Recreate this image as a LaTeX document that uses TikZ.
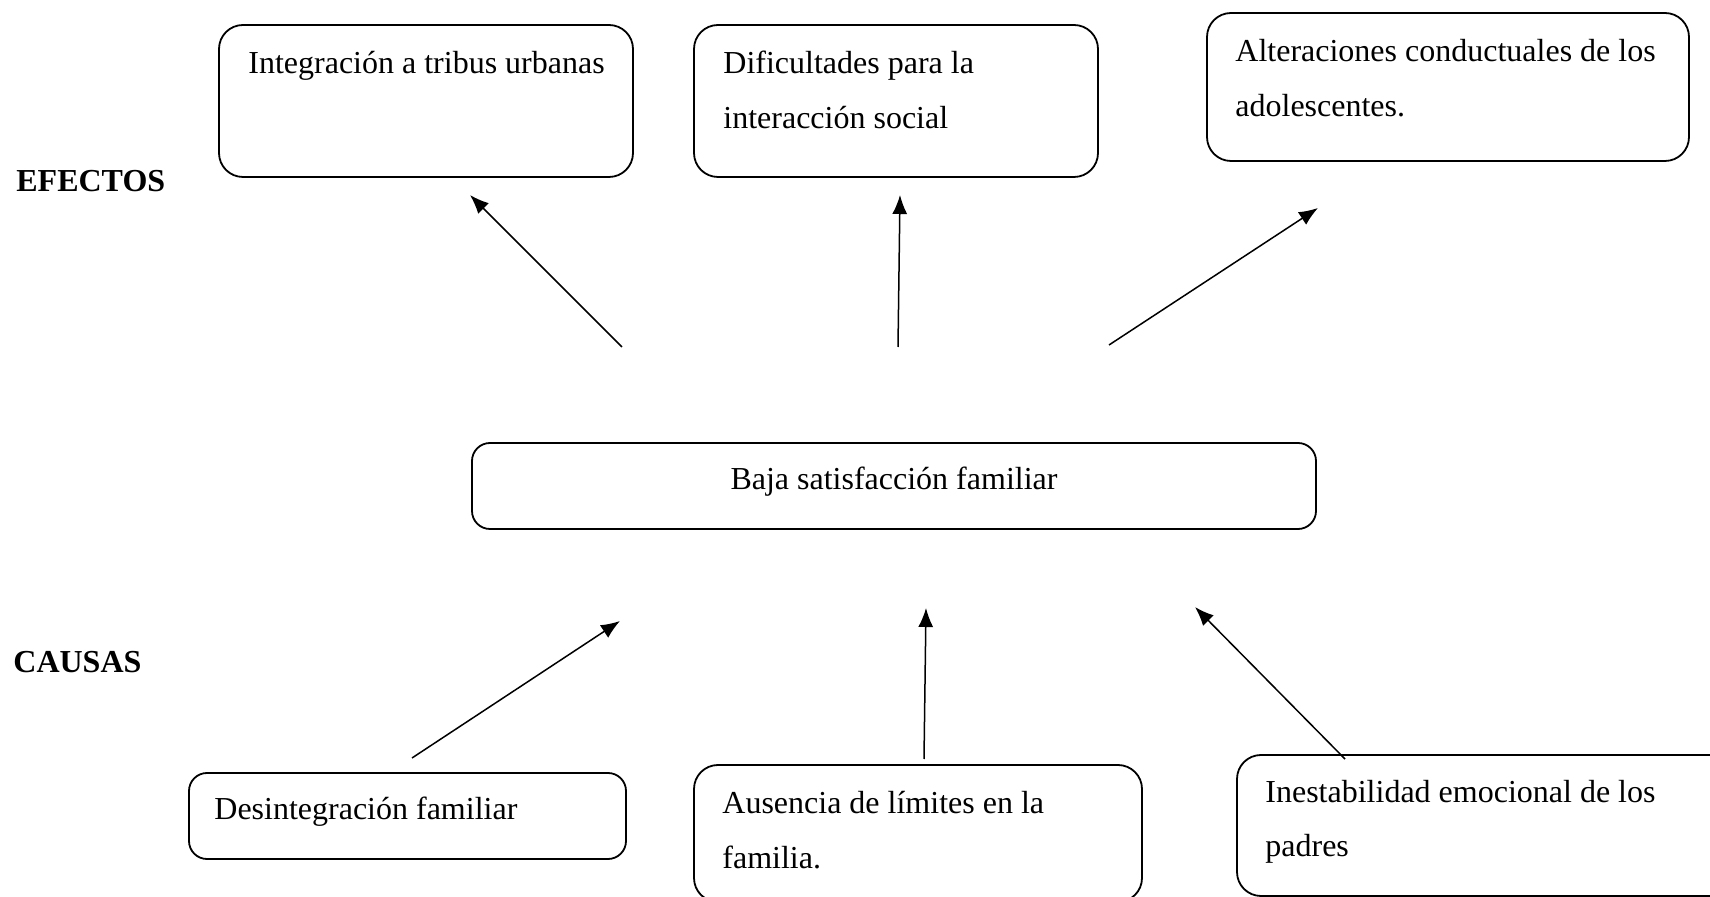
\documentclass[tikz,border=0pt]{standalone}
\usepackage{fontspec}
\setmainfont{Liberation Serif}
\usetikzlibrary{fit,arrows.meta}
\begin{document}
\begin{tikzpicture}[x=0.5pt,y=-0.5pt,
  box/.style={draw, line width=0.9pt, rounded corners=12pt, inner sep=0pt},
  boxs/.style={box, rounded corners=9pt},
  txt/.style={anchor=base west, inner sep=0pt, font=\fontsize{16}{27.5}\selectfont, align=left},
  lbl/.style={anchor=base west, inner sep=0pt, font=\fontsize{16}{19}\selectfont\bfseries},
  arr/.style={line width=0.75pt, -{Latex[length=9.5pt,width=7.5pt]}}]
\useasboundingbox (0,0) rectangle (1710,897);
% labels
\node[lbl] (efectos) at (16,192) {EFECTOS};
\node[lbl] (causas) at (13,673) {CAUSAS};
% effect boxes
\node[box, fit={(219,25) (633,177)}] (b1) {};
\node[txt] (b1t) at (248,74) {Integración a tribus urbanas};
\node[box, fit={(694,25) (1098,177)}] (b2) {};
\node[txt] (b2t) at (723,129) {Dificultades para la\\interacción social};
\node[box, fit={(1207,13) (1689,161)}] (b3) {};
\node[txt] (b3t) at (1235,117) {Alteraciones conductuales de los\\adolescentes.};
% central box
\node[boxs, fit={(472,443) (1316,529)}] (c) {};
\node[anchor=base, inner sep=0pt, font=\fontsize{16}{19}\selectfont] (ct) at (894,490) {Baja satisfacción familiar};
% cause boxes
\node[boxs, fit={(189,773) (626,859)}] (d1) {};
\node[txt] (d1t) at (214,820) {Desintegración familiar};
\node[box, fit={(694,765) (1142,902)}] (d2) {};
\node[txt] (d2t) at (722,869) {Ausencia de límites en la\\familia.};
\node[box, fit={(1237,755) (1745,896)}] (d3) {};
\node[txt] (d3t) at (1265,857) {Inestabilidad emocional de los\\padres};
% arrow end points
\coordinate (e1s) at (622,347); \coordinate (e1e) at (470,195);
\coordinate (e2s) at (898,347); \coordinate (e2e) at (900,195);
\coordinate (e3s) at (1109,345); \coordinate (e3e) at (1318,208);
\coordinate (c1s) at (412,758); \coordinate (c1e) at (620,621);
\coordinate (c2s) at (924,759); \coordinate (c2e) at (926,608);
\coordinate (c3s) at (1345,759); \coordinate (c3e) at (1195,607);
\draw[arr] (e1s) -- (e1e);
\draw[arr] (e2s) -- (e2e);
\draw[arr] (e3s) -- (e3e);
\draw[arr] (c1s) -- (c1e);
\draw[arr] (c2s) -- (c2e);
\draw[arr] (c3s) -- (c3e);
\end{tikzpicture}
\end{document}
